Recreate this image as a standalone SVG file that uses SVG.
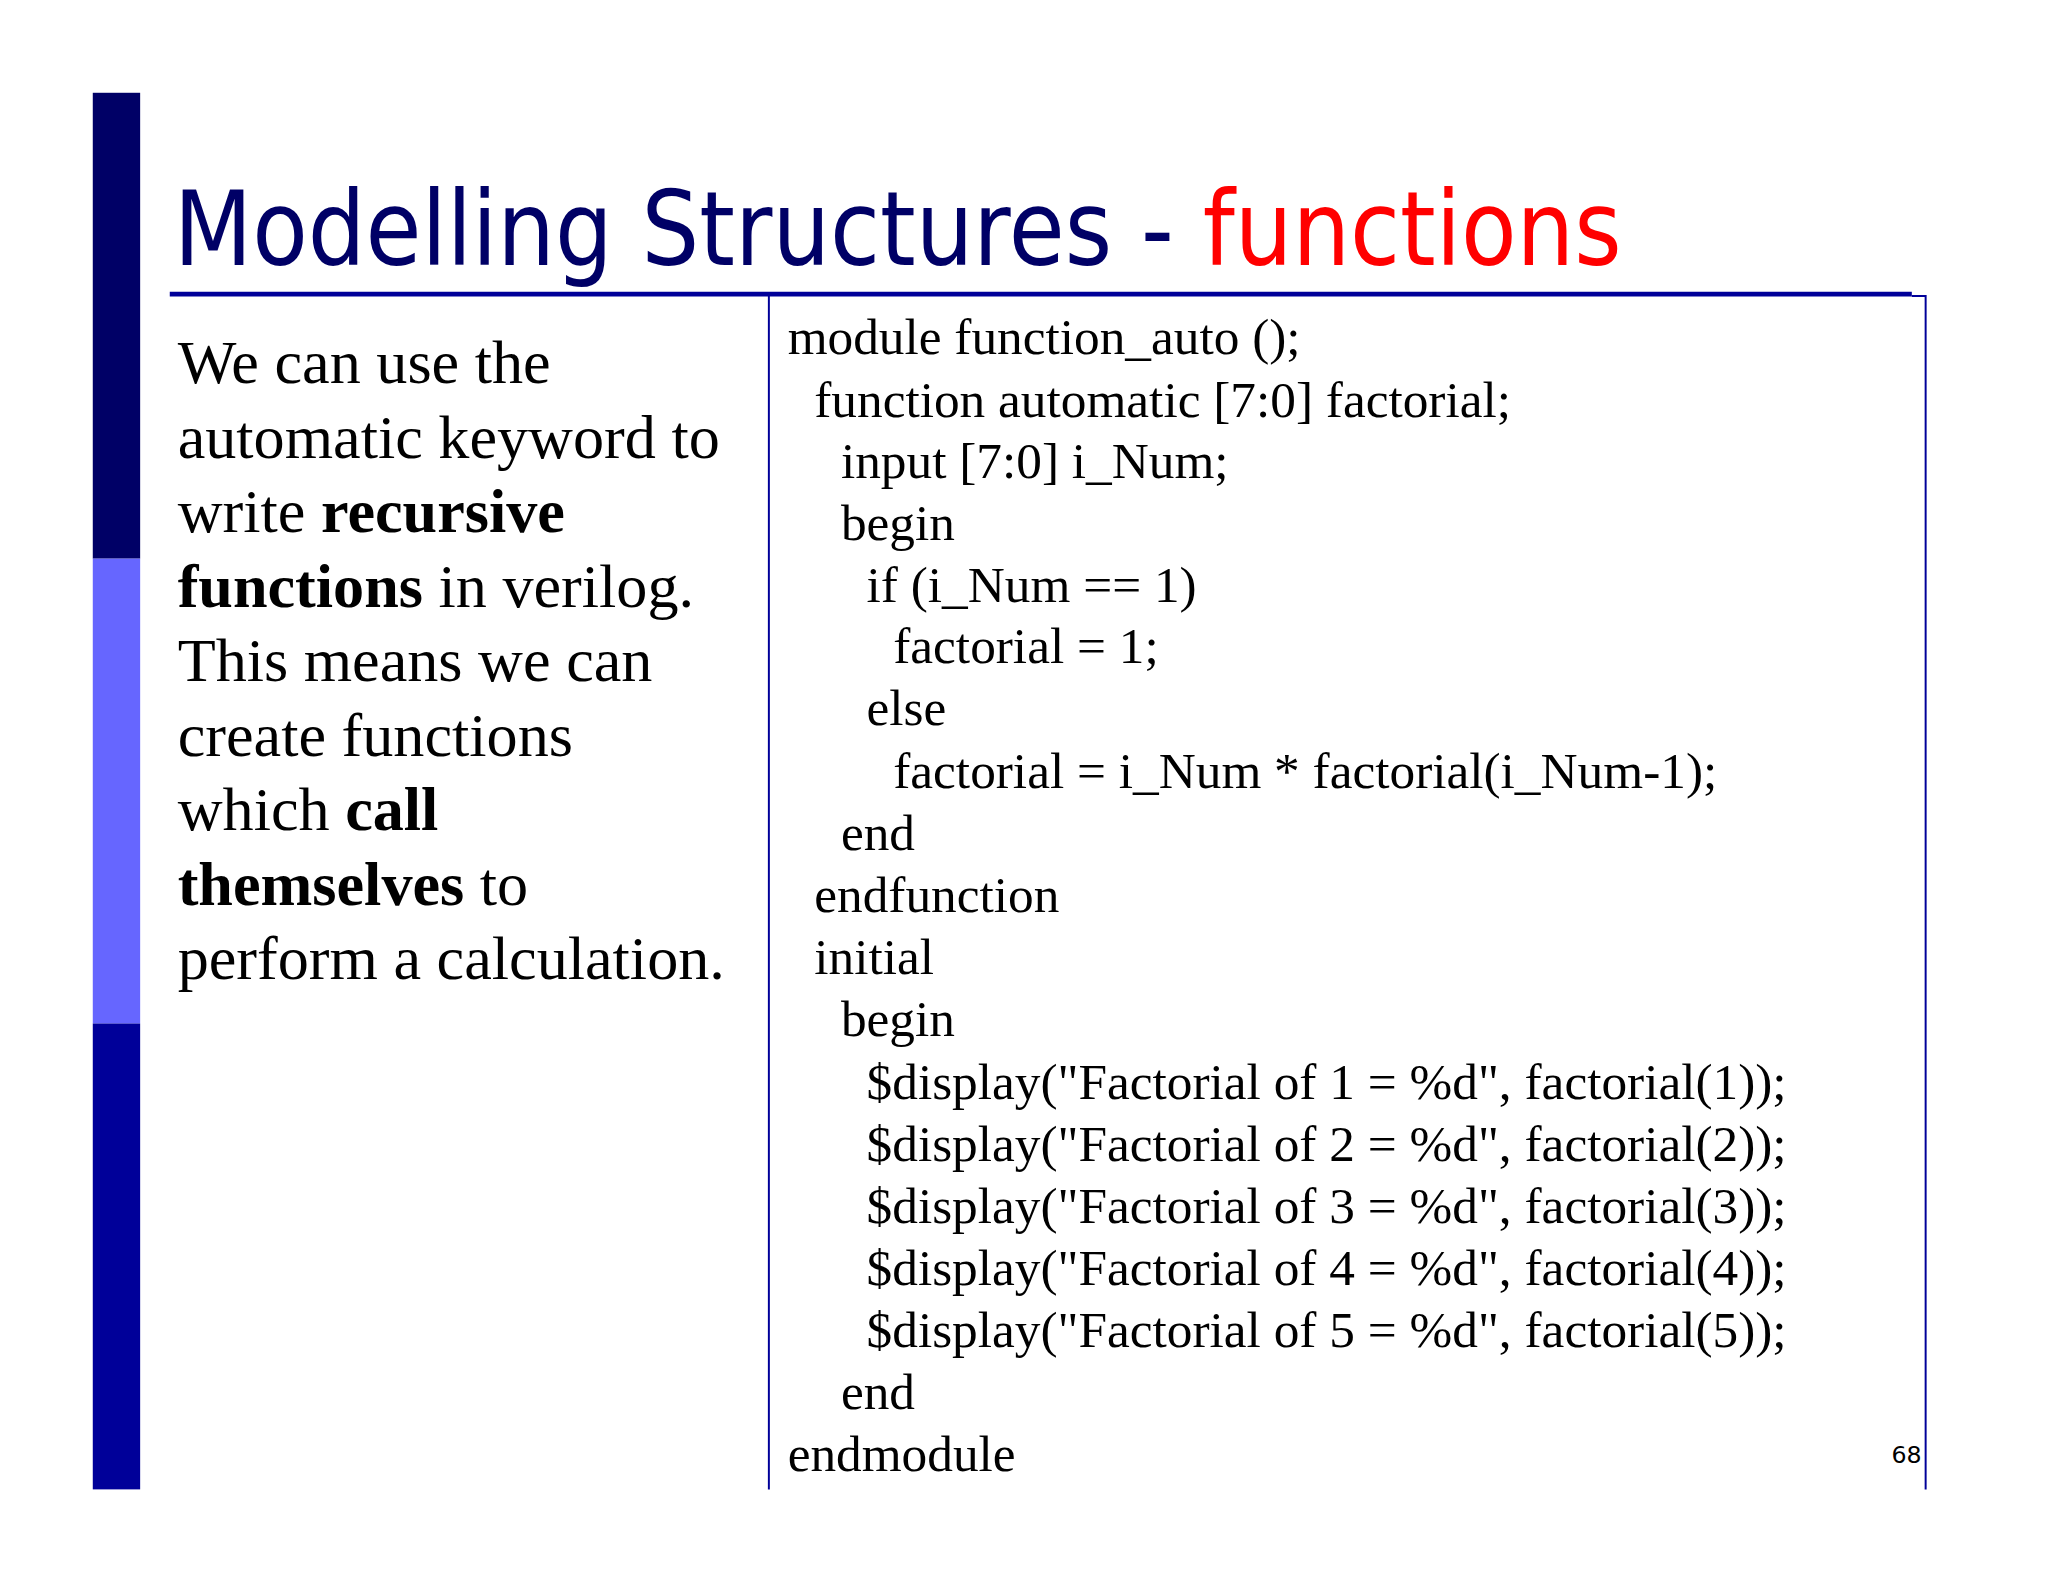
<svg xmlns="http://www.w3.org/2000/svg" width="2048" height="1582" viewBox="0 0 2048 1582">
<style>
.b{font-family:"Liberation Serif",serif;font-size:63px;fill:#000}
.c{font-family:"Liberation Serif",serif;font-size:52px;fill:#000}
.bold{font-weight:bold}
</style>
<rect width="2048" height="1582" fill="#fff"/>
<g transform="scale(0.987)">
<g id="sidebar">
<rect x="94" y="94" width="48" height="472" fill="#000066"/>
<rect x="94" y="566" width="48" height="471" fill="#6666FF"/>
<rect x="94" y="1037" width="48" height="472" fill="#000099"/>
</g>
<g id="title">
<text x="176" y="268" font-family="DejaVu Sans,sans-serif" font-size="104" textLength="1467" lengthAdjust="spacingAndGlyphs"><tspan fill="#000066">Modelling Structures - </tspan><tspan fill="#FF0000">functions</tspan></text>
</g>
<g id="frame" stroke="#000099" fill="none">
<line x1="172" y1="298" x2="1937" y2="298" stroke-width="5"/>
<line x1="779" y1="298" x2="779" y2="1509" stroke-width="2"/>
<polyline points="1937,300 1951,300 1951,1509" stroke-width="2"/>
</g>
<g id="description" transform="translate(0,4)">
<text class="b" x="180" y="384">We can use the</text>
<text class="b" x="180" y="460">automatic keyword to</text>
<text class="b" x="180" y="535">write <tspan class="bold">recursive</tspan></text>
<text class="b" x="180" y="611"><tspan class="bold">functions</tspan> in verilog.</text>
<text class="b" x="180" y="686">This means we can</text>
<text class="b" x="180" y="762">create functions</text>
<text class="b" x="180" y="837">which <tspan class="bold">call</tspan></text>
<text class="b" x="180" y="913"><tspan class="bold">themselves</tspan> to</text>
<text class="b" x="180" y="988">perform a calculation.</text>
</g>
<g id="code" transform="translate(0,3)">
<text class="c" x="798" y="356">module function_auto ();</text>
<text class="c" x="825" y="419">function automatic [7:0] factorial;</text>
<text class="c" x="852" y="481">input [7:0] i_Num;</text>
<text class="c" x="852" y="544">begin</text>
<text class="c" x="878" y="607">if (i_Num == 1)</text>
<text class="c" x="905" y="669">factorial = 1;</text>
<text class="c" x="878" y="732">else</text>
<text class="c" x="905" y="795">factorial = i_Num * factorial(i_Num-1);</text>
<text class="c" x="852" y="858">end</text>
<text class="c" x="825" y="921">endfunction</text>
<text class="c" x="825" y="984">initial</text>
<text class="c" x="852" y="1047">begin</text>
<text class="c" x="878" y="1110">$display("Factorial of 1 = %d", factorial(1));</text>
<text class="c" x="878" y="1173">$display("Factorial of 2 = %d", factorial(2));</text>
<text class="c" x="878" y="1236">$display("Factorial of 3 = %d", factorial(3));</text>
<text class="c" x="878" y="1299">$display("Factorial of 4 = %d", factorial(4));</text>
<text class="c" x="878" y="1362">$display("Factorial of 5 = %d", factorial(5));</text>
<text class="c" x="852" y="1425">end</text>
<text class="c" x="798" y="1487">endmodule</text>
</g>
<g id="page">
<text x="1947" y="1482" text-anchor="end" font-family="DejaVu Sans,sans-serif" font-size="24" fill="#000">68</text>
</g>
</g>
</svg>
